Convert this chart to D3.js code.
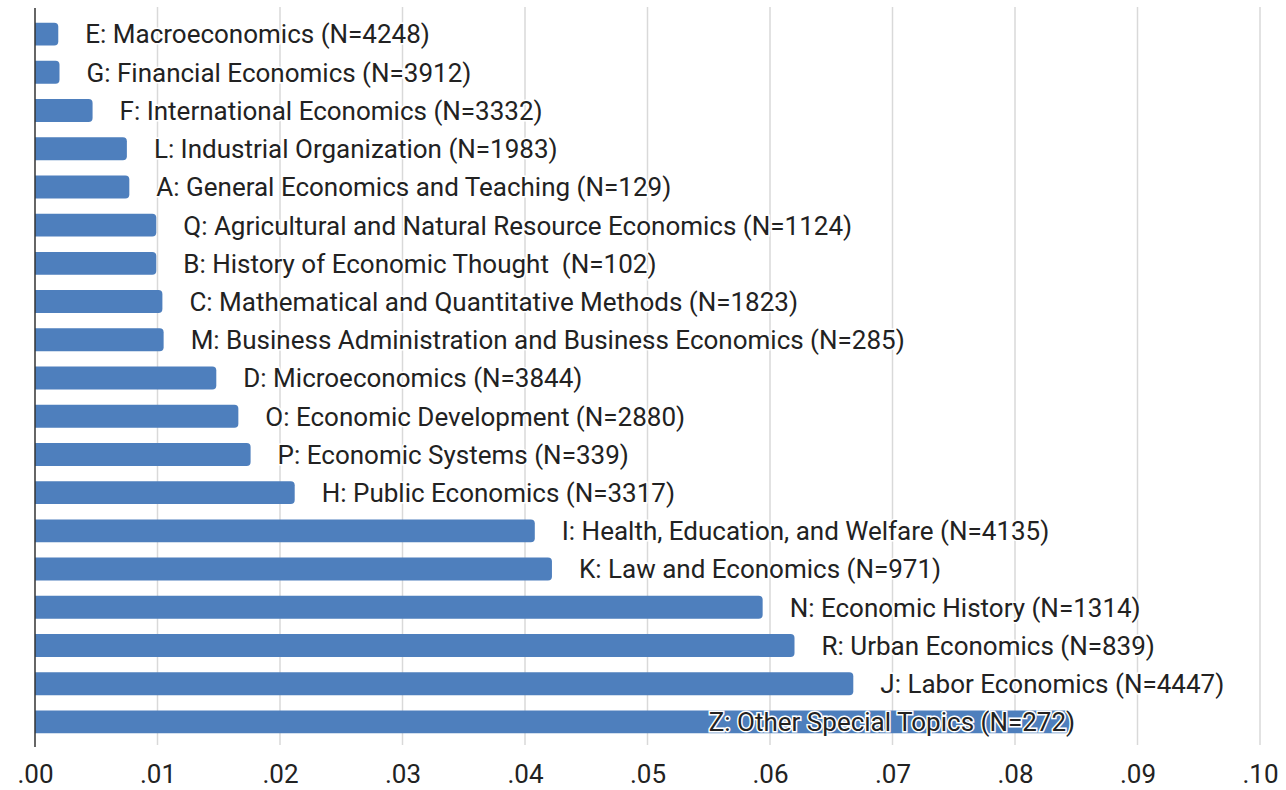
<!DOCTYPE html>
<html>
<head>
<meta charset="utf-8">
<script src="https://cdn.jsdelivr.net/npm/d3@7"></script>
<style>
  body { margin: 0; background: #fff; }
  svg { display: block; font-family: Roboto, "Noto Sans", sans-serif; }
</style>
</head>
<body>
<div id="chart-area"></div>
<script>
// Data (top to bottom)
var fields = ["E: Macroeconomics", "G: Financial Economics", "F: International Economics",
  "L: Industrial Organization", "A: General Economics and Teaching",
  "Q: Agricultural and Natural Resource Economics", "B: History of Economic Thought ",
  "C: Mathematical and Quantitative Methods", "M: Business Administration and Business Economics",
  "D: Microeconomics", "O: Economic Development", "P: Economic Systems", "H: Public Economics",
  "I: Health, Education, and Welfare", "K: Law and Economics", "N: Economic History",
  "R: Urban Economics", "J: Labor Economics", "Z: Other Special Topics"];
var counts = [4248, 3912, 3332, 1983, 129, 1124, 102, 1823, 285, 3844, 2880, 339, 3317,
  4135, 971, 1314, 839, 4447, 272];
var shares = [0.0019, 0.0020, 0.0047, 0.0075, 0.0077, 0.0099, 0.0099, 0.0104, 0.0105,
  0.0148, 0.0166, 0.0176, 0.0212, 0.0408, 0.0422, 0.0594, 0.0620, 0.0668, 0.0845];
var tickVals = [0, 0.01, 0.02, 0.03, 0.04, 0.05, 0.06, 0.07, 0.08, 0.09, 0.10];

var width = 1286, height = 790;
var plotLeft = 35, plotRight = 1260, plotTop = 15, plotBottom = 741;

var svg = d3.select("#chart-area").append("svg").attr("width", width).attr("height", height);

var data = fields.map((f, i) => ({ label: f + " (N=" + counts[i] + ")", value: shares[i], key: f }));

// Scales
var x = d3.scaleLinear().domain([0, 0.1]).range([plotLeft, plotRight]);
var y = d3.scaleBand().domain(fields).range([plotTop, plotBottom]).paddingInner(0.4).paddingOuter(0.2);

// Gridlines
svg.append("g").selectAll("line").data(tickVals.slice(1)).enter().append("line")
  .attr("x1", d => x(d)).attr("x2", d => x(d)).attr("y1", 7).attr("y2", 745)
  .attr("stroke", "#d9d9d9").attr("stroke-width", 1.5);

// X axis
var xAxisGroup = svg.append("g").attr("transform", "translate(0," + 745 + ")")
  .call(d3.axisBottom(x).tickValues(tickVals).tickSize(0)
    .tickFormat(d => d3.format(".2f")(d).replace(/^0/, "")));
xAxisGroup.select(".domain").remove();
xAxisGroup.selectAll("text").attr("y", 38).attr("dy", null)
  .attr("font-family", "Roboto, sans-serif").attr("font-size", "26px").attr("fill", "#222");

// Bars with rounded right end
var r = 4;
svg.append("g").selectAll("path").data(data).enter().append("path")
  .attr("d", d => {
    var x0 = x(0), x1 = x(d.value), y0 = y(d.key), h = y.bandwidth();
    var p = d3.path();
    p.moveTo(x0, y0);
    p.lineTo(x1 - r, y0);
    p.arcTo(x1, y0, x1, y0 + r, r);
    p.lineTo(x1, y0 + h - r);
    p.arcTo(x1, y0 + h, x1 - r, y0 + h, r);
    p.lineTo(x0, y0 + h);
    p.closePath();
    return p.toString();
  })
  .attr("fill", "#4e7fbd");

// Y axis line
svg.append("line").attr("x1", plotLeft).attr("x2", plotLeft).attr("y1", 8).attr("y2", 747)
  .attr("stroke", "#333").attr("stroke-width", 1.5);

// Labels
var labels = svg.append("g").selectAll("text").data(data).enter().append("text")
  .attr("x", d => x(d.value) + 27)
  .attr("y", d => y(d.key) + y.bandwidth() / 2)
  .attr("dy", "0.36em")
  .attr("font-size", "26px")
  .attr("fill", "#222")
  .attr("stroke", "#fff").attr("stroke-width", 3).attr("paint-order", "stroke")
  .style("white-space", "pre")
  .text(d => d.label);

// Labels that don't fit get pulled back to end at the bar
labels.each(function(d) {
  var w = this.getComputedTextLength();
  if (x(d.value) + 27 + w > plotRight) {
    d3.select(this).attr("x", x(d.value) + 5).attr("text-anchor", "end");
  }
});
</script>
</body>
</html>
